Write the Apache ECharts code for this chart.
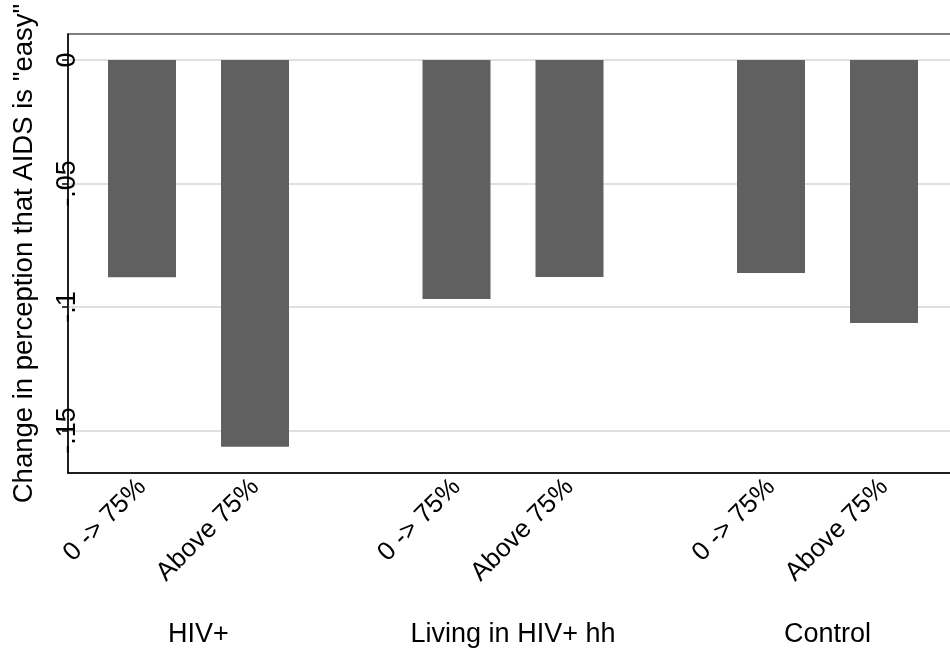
<!DOCTYPE html>
<html>
<head>
<meta charset="utf-8">
<script src="https://cdn.jsdelivr.net/npm/echarts@6/dist/echarts.min.js"></script>
<style>
html,body{margin:0;padding:0;background:#fff;}
#charts{width:950px;height:656px;}
</style>
</head>
<body>
<div id="charts"></div>
<script>
var groups = ['HIV+', 'Living in HIV+ hh', 'Control'];
var subgroups = ['0 -> 75%', 'Above 75%'];
var values = [
	[-0.088, -0.1566],
	[-0.0968, -0.0879],
	[-0.0862, -0.1065]
];
var yTicks = [0, -0.05, -0.1, -0.15];
var yMin = -0.1672, yMax = 0.0105;

var font = "'Liberation Sans', Arial, sans-serif";

function tickText(v){
	if(v == 0) return '0';
	return String(v).replace('0.', '.');
}

//主坐标系：纵轴、网格线、边框（右边框画在画布外）
var grids = [{left: 68, top: 34, width: 920, bottom: 183, outerBoundsMode: 'none',
	show: true, borderColor: '#555', borderWidth: 1.5, backgroundColor: '#fff'}];
var xAxes = [{
	gridIndex: 0, type: 'category', data: [''],
	axisLine: {onZero: false, lineStyle: {color: '#000', width: 1.5}},
	axisTick: {show: false}, axisLabel: {show: false}
}];
var yAxes = [{
	gridIndex: 0, type: 'value', min: yMin, max: yMax, splitNumber: 4,
	name: 'Change in perception that AIDS is "easy"',
	nameLocation: 'middle', nameRotate: 90, nameGap: 30,
	nameTextStyle: {fontFamily: font, fontSize: 27.5, color: '#000'},
	axisLine: {show: true, lineStyle: {color: '#000', width: 1.5}},
	axisTick: {show: true, length: 6, lineStyle: {color: '#000', width: 1.5}, customValues: yTicks},
	axisLabel: {rotate: 90, margin: 0, verticalAlign: 'middle', fontFamily: font, fontSize: 27, color: '#000',
		customValues: yTicks, formatter: tickText},
	splitLine: {show: true, lineStyle: {color: '#e0e0e0', width: 2}}
}];
var series = [];

//每组一个坐标系
var band = 113, firstCenter = 198.5, step = 314.5;
for(var i=0;i<groups.length;i++){
	grids.push({left: firstCenter + i*step - band, top: 34, width: band*2, bottom: 183, outerBoundsMode: 'none'});
	xAxes.push({
		gridIndex: i+1, type: 'category', data: subgroups,
		name: groups[i], nameLocation: 'middle', nameGap: 148,
		nameTextStyle: {fontFamily: font, fontSize: 27, color: '#000'},
		axisLine: {show: false, onZero: false}, axisTick: {show: false},
		axisLabel: {rotate: 45, margin: 10, fontFamily: font, fontSize: 26, color: '#000', interval: 0}
	});
	yAxes.push({
		gridIndex: i+1, type: 'value', min: yMin, max: yMax, show: false,
		splitLine: {show: false}
	});
	series.push({
		type: 'bar', xAxisIndex: i+1, yAxisIndex: i+1,
		data: values[i], barWidth: 68,
		itemStyle: {color: '#606060'},
		silent: true
	});
}

var charts = echarts.init(document.getElementById('charts'));
var option = {
	animation: false,
	backgroundColor: '#fff',
	grid: grids,
	xAxis: xAxes,
	yAxis: yAxes,
	series: series
};
charts.setOption(option);
</script>
</body>
</html>
